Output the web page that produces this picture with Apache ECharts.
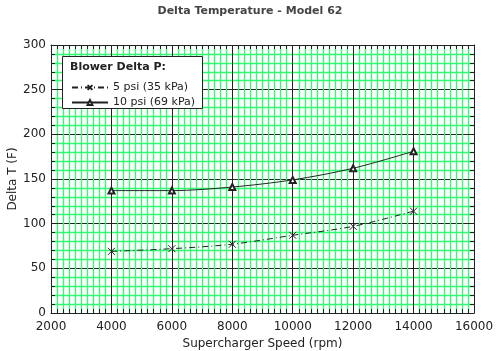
<!DOCTYPE html>
<html>
<head>
<meta charset="utf-8">
<script src="https://cdn.jsdelivr.net/npm/echarts@6/dist/echarts.min.js"></script>
<style>
  html, body { margin: 0; padding: 0; background: #fff; }
  #main { width: 500px; height: 351px; }
</style>
</head>
<body>
<div id="main"></div>
<script>
var speeds = [4000, 6000, 8000, 10000, 12000, 14000];
var psi5 = [69, 72, 77, 87, 97, 114];
var psi10 = [137, 137, 141, 149, 162, 181];
var seriesNames = ['5 psi (35 kPa)', '10 psi (69 kPa)'];

var chart = echarts.init(document.getElementById('main'));
var FONT = 'DejaVu Sans';
var GREEN = '#30fa70';
var crossIcon = 'path://M0,0L10,10M10,0L0,10';

function pairs(xs, ys) {
    var out = [];
    for (var i = 0; i < xs.length; i++) out.push([xs[i], ys[i]]);
    return out;
}

// axis style shared by the 4 sides (ticks pointing into the plot)
function sideAxis(pos, isX, showLabel) {
    var a = {
        type: 'value',
        position: pos,
        min: isX ? 2000 : 0,
        max: isX ? 16000 : 300,
        interval: isX ? 2000 : 50,
        axisLine: { show: true, onZero: false, lineStyle: { color: '#222', width: 1 } },
        axisTick: { show: true, inside: true, length: 7, lineStyle: { color: '#222' } },
        minorTick: { show: true, splitNumber: isX ? 10 : 5, length: 4, lineStyle: { color: '#222' } },
        axisLabel: {
            show: showLabel, color: '#222', fontFamily: FONT, fontSize: 12, margin: isX ? 8 : 5,
            formatter: function (v) { return String(v); }
        },
        splitLine: { show: false },
        minorSplitLine: { show: false }
    };
    return a;
}

var xBottom = sideAxis('bottom', true, true);
xBottom.name = 'Supercharger Speed (rpm)';
xBottom.nameLocation = 'middle';
xBottom.nameGap = 25;
xBottom.nameMoveOverlap = false;
xBottom.nameTextStyle = { color: '#222', fontFamily: FONT, fontSize: 12 };
xBottom.minorSplitLine = { show: true, lineStyle: { color: GREEN, width: 1.3 } };
xBottom.splitLine = { show: true, lineStyle: { color: '#222', width: 1 } };

var yLeft = sideAxis('left', false, true);
yLeft.name = 'Delta T (F)';
yLeft.nameLocation = 'middle';
yLeft.nameGap = 32;
yLeft.nameMoveOverlap = false;
yLeft.nameTextStyle = { color: '#222', fontFamily: FONT, fontSize: 12 };
yLeft.minorSplitLine = { show: true, lineStyle: { color: GREEN, width: 1.3 } };
yLeft.splitLine = { show: true, lineStyle: { color: '#222', width: 1 } };

var option = {
    backgroundColor: '#fff',
    animation: false,
    title: {
        text: 'Delta Temperature - Model 62',
        left: 'center',
        top: 1,
        textStyle: { fontFamily: FONT, fontSize: 11, fontWeight: 'bold', color: '#444' }
    },
    grid: { left: 51, right: 26, top: 45, bottom: 38, outerBoundsMode: 'none', containLabel: false },
    xAxis: [xBottom, sideAxis('top', true, false)],
    yAxis: [yLeft, sideAxis('right', false, false)],
    graphic: [{
        type: 'rect',
        left: 62, top: 56,
        shape: { width: 140, height: 52 },
        style: { fill: '#fff', stroke: '#222', lineWidth: 1 },
        z: 10
    }, {
        type: 'text',
        left: 70, top: 62,
        style: { text: 'Blower Delta P:', fill: '#222', font: 'bold 11px "DejaVu Sans"' },
        z: 11
    }],
    legend: {
        left: 66, top: 77,
        orient: 'vertical',
        itemGap: 4,
        itemWidth: 36,
        itemHeight: 6,
        data: seriesNames,
        textStyle: { fontFamily: FONT, fontSize: 11, color: '#222' },
        z: 12
    },
    series: [{
        name: seriesNames[0],
        type: 'line',
        smooth: 0.3,
        data: pairs(speeds, psi5),
        symbol: crossIcon,
        symbolSize: 7,
        itemStyle: { color: 'none', borderColor: '#222', borderWidth: 1 },
        lineStyle: { color: '#222', width: 1, type: [6, 3, 1, 3] },
        z: 5
    }, {
        name: seriesNames[1],
        type: 'line',
        smooth: 0.3,
        data: pairs(speeds, psi10),
        symbol: 'emptyTriangle',
        symbolSize: 6,
        itemStyle: { color: '#222', borderColor: '#222', borderWidth: 1 },
        lineStyle: { color: '#222', width: 1 },
        z: 5
    }]
};

chart.setOption(option);
</script>
</body>
</html>
